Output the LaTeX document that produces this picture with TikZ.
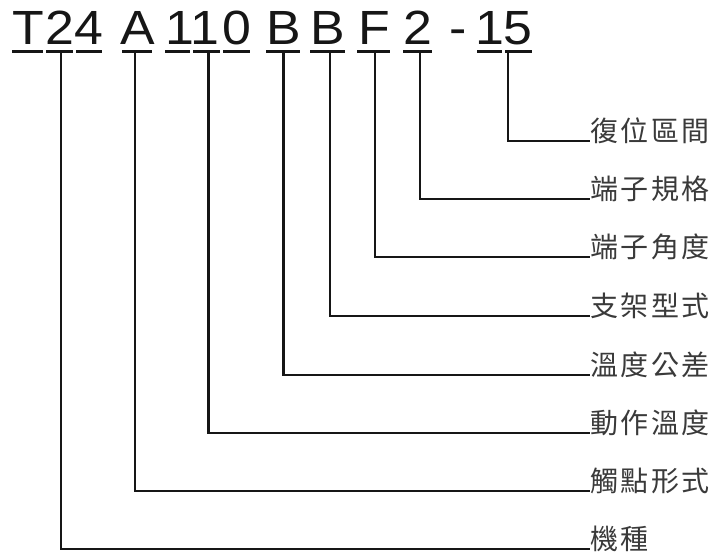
\documentclass[tikz,border=0pt]{standalone}
\usepackage{fontspec}
\setmainfont{Liberation Sans}
\newfontfamily\codefont[FakeStretch=1.08]{Liberation Sans}
\newfontfamily\cjkfont{Noto Sans CJK TC}
\newcommand\lsp{\hspace{2.5pt}}
\definecolor{ink}{HTML}{161616}
\definecolor{labc}{HTML}{3A3A3A}
\begin{document}
\begin{tikzpicture}[x=1pt,y=-1pt,
  ch/.style={anchor=base,inner sep=0pt,font=\codefont\fontsize{48}{48}\selectfont,text=ink},
  lbl/.style={anchor=base west,inner sep=0pt,font=\cjkfont\fontsize{28}{28}\selectfont,text=labc},
  ul/.style={line width=2.8pt,draw=ink},
  conn/.style={line width=2.8pt,draw=ink,line join=miter}]
\useasboundingbox[fill=white] (0,0) rectangle (715,558);
% code characters
\node[ch] (c1) at (28,44.5) {T};
\node[ch] (c2) at (59.5,44.5) {2};
\node[ch] (c3) at (89,44.5) {4};
\node[ch] (c4) at (137.5,44.5) {A};
\node[ch] (c5) at (180,44.5) {1};
\node[ch] (c6) at (205,44.5) {1};
\node[ch] (c7) at (236.5,44.5) {0};
\node[ch] (c8) at (283.5,44.5) {B};
\node[ch] (c9) at (327.5,44.5) {B};
\node[ch] (c10) at (374,44.5) {F};
\node[ch] (c11) at (417.5,44.5) {2};
\node[ch] (c12) at (458,44.5) {-};
\node[ch] (c13) at (490,44.5) {1};
\node[ch] (c14) at (518,44.5) {5};
% underlines
\draw[ul] (12,51.5) -- (43,51.5);
\draw[ul] (46,51.5) -- (73,51.5);
\draw[ul] (76,51.5) -- (102,51.5);
\draw[ul] (122,51.5) -- (152,51.5);
\draw[ul] (165,51.5) -- (190,51.5);
\draw[ul] (193,51.5) -- (220,51.5);
\draw[ul] (223,51.5) -- (250,51.5);
\draw[ul] (266,51.5) -- (300,51.5);
\draw[ul] (310,51.5) -- (345,51.5);
\draw[ul] (357,51.5) -- (390,51.5);
\draw[ul] (403,51.5) -- (432,51.5);
\draw[ul] (477,51.5) -- (502,51.5);
\draw[ul] (505,51.5) -- (532,51.5);
% tick points
\coordinate (k1) at (61,51.5);
\coordinate (k2) at (135,51.5);
\coordinate (k3) at (208.5,51.5);
\coordinate (k4) at (283.5,51.5);
\coordinate (k5) at (330,51.5);
\coordinate (k6) at (375,51.5);
\coordinate (k7) at (420,51.5);
\coordinate (k8) at (508,51.5);
% labels
\node[lbl] (l1) at (590,141) {復\lsp{}位\lsp{}區\lsp{}間};
\node[lbl] (l2) at (590,199) {端\lsp{}子\lsp{}規\lsp{}格};
\node[lbl] (l3) at (590,257) {端\lsp{}子\lsp{}角\lsp{}度};
\node[lbl] (l4) at (590,316) {支\lsp{}架\lsp{}型\lsp{}式};
\node[lbl] (l5) at (590,375) {溫\lsp{}度\lsp{}公\lsp{}差};
\node[lbl] (l6) at (590,433) {動\lsp{}作\lsp{}溫\lsp{}度};
\node[lbl] (l7) at (590,491) {觸\lsp{}點\lsp{}形\lsp{}式};
\node[lbl] (l8) at (590,549) {機\lsp{}種};
% connectors
\draw[conn] (k8) |- (l1.base west);
\draw[conn] (k7) |- (l2.base west);
\draw[conn] (k6) |- (l3.base west);
\draw[conn] (k5) |- (l4.base west);
\draw[conn] (k4) |- (l5.base west);
\draw[conn] (k3) |- (l6.base west);
\draw[conn] (k2) |- (l7.base west);
\draw[conn] (k1) |- (l8.base west);
\end{tikzpicture}
\end{document}
